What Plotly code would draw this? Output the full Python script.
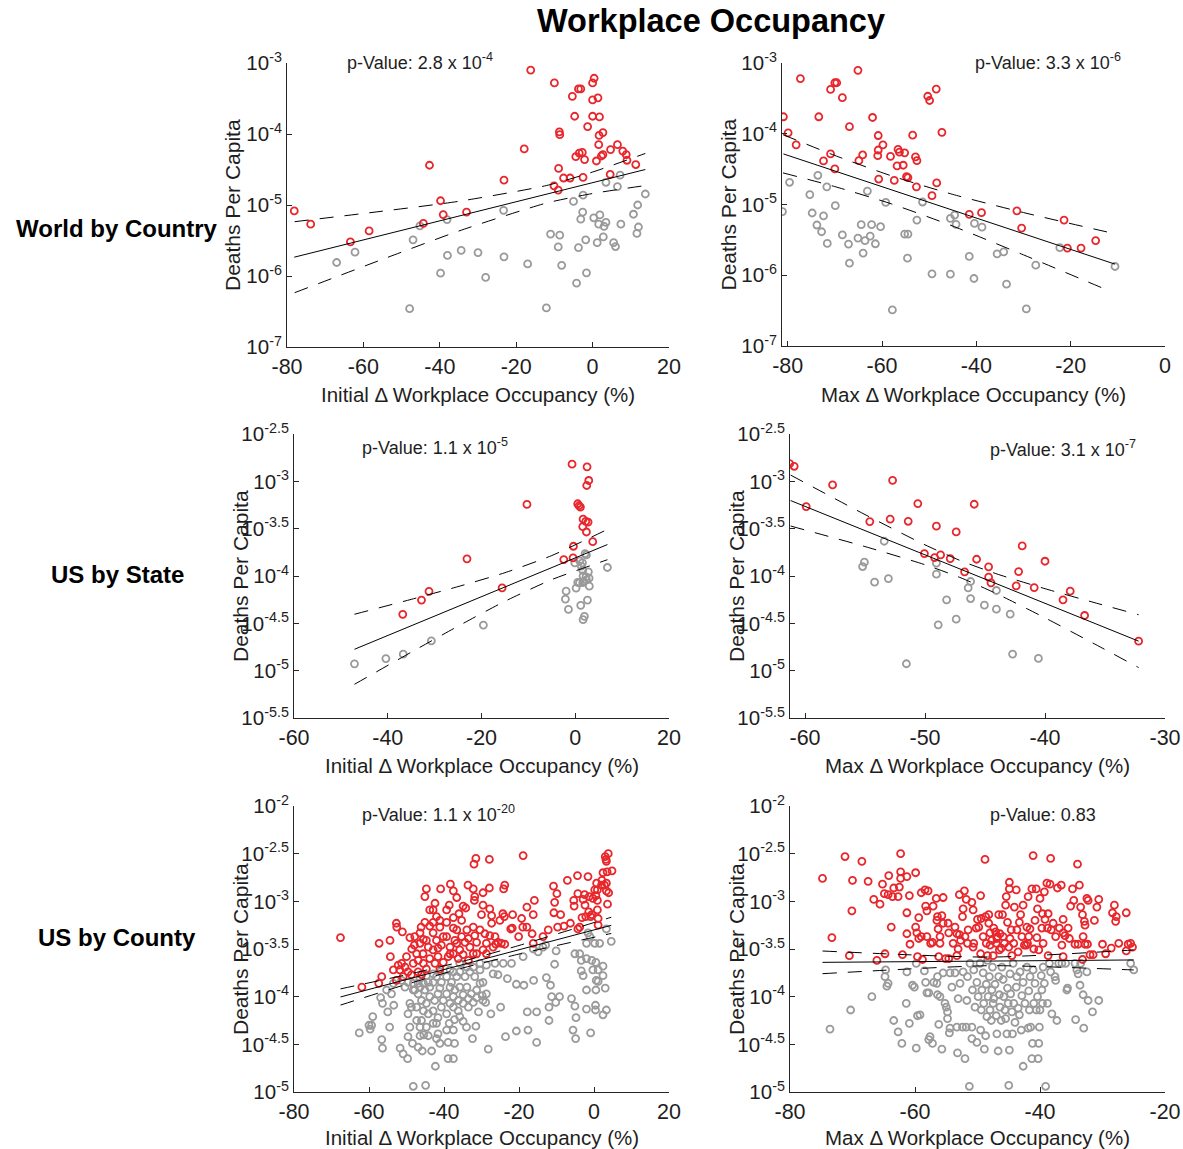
import plotly.graph_objects as go

W, H = 1183, 1149
RED = '#e8262b'
GRAY = '#9a9a9a'
INK = '#1e1e1e'
FONT = 'Liberation Sans, Arial, Helvetica, sans-serif'

# ---------------- data (x = change in occupancy %, y = log10 deaths per capita) -------------
world_init_red = [(-78.1,-5.084),(-73.8,-5.27),(-63.4,-5.52),(-58.5,-5.365),(-44.3,-5.26),(-42.7,-4.44),
    (-39.8,-4.94),(-39.1,-5.135),(-33.0,-5.10),(-23.2,-4.65),(-17.9,-4.21),(-16.2,-3.10),(-10.0,-3.28),
    (-10.1,-4.73),(-9.0,-4.79),(-8.9,-4.485),(-8.7,-3.97),(-8.6,-4.01),(-7.6,-4.62),(-5.9,-4.62),(-5.3,-3.47),
    (-4.7,-3.75),(-4.4,-4.32),(-3.7,-3.365),(-3.1,-3.365),(-3.5,-4.27),(-2.7,-4.26),(-2.5,-4.61),(-2.1,-4.36),
    (-1.3,-3.895),(0.0,-3.28),(0.4,-3.215),(0.0,-3.52),(1.4,-3.49),(0.0,-3.75),(1.8,-3.76),(1.0,-4.38),
    (1.7,-4.02),(2.7,-3.98),(1.6,-4.15),(2.3,-4.31),(2.7,-4.29),(4.7,-4.22),(4.6,-4.57),(6.5,-4.15),
    (7.9,-4.24),(8.8,-4.29),(9.0,-4.37),(11.3,-4.43)]
world_init_gray = [(-67.0,-5.81),(-62.2,-5.665),(-47.9,-6.46),(-47.0,-5.49),(-45.2,-5.295),(-39.8,-5.96),
    (-38.1,-5.205),(-38.0,-5.71),(-34.4,-5.64),(-30.0,-5.67),(-28.0,-6.02),(-23.3,-5.075),(-23.2,-5.73),
    (-17.0,-5.83),(-12.1,-6.45),(-11.0,-5.41),(-9.0,-5.59),(-8.6,-5.425),(-8.1,-5.85),(-5.0,-4.95),
    (-4.2,-6.10),(-3.7,-5.60),(-3.1,-5.20),(-2.6,-5.10),(-2.5,-4.86),(-1.8,-5.49),(-1.6,-5.955),(0.3,-5.18),
    (1.2,-5.53),(1.6,-5.27),(1.9,-5.14),(2.8,-5.45),(3.0,-5.30),(3.5,-5.245),(3.5,-4.68),(5.5,-5.53),
    (6.0,-5.585),(6.5,-4.74),(7.2,-4.58),(7.4,-5.27),(10.7,-5.13),(11.8,-5.00),(12.0,-5.31),(11.6,-5.40),
    (13.8,-4.845)]
world_init_fit_x = [-78.1, 13.8]
world_init_fit_y = [-5.735, -4.50]
world_init_band_x = [-78.0, -55.0, -35.0, -12.0, 0.0, 13.8]
world_init_upper = [-5.235, -5.087, -4.948, -4.725, -4.536, -4.274]
world_init_lower = [-6.235, -5.765, -5.366, -4.971, -4.838, -4.726]

world_max_red = [(-80.9,-3.76),(-79.9,-3.987),(-78.2,-4.157),(-77.3,-3.22),(-73.4,-3.76),(-72.4,-4.384),
    (-70.9,-3.373),(-70.9,-4.285),(-70.0,-4.497),(-70.0,-3.279),(-69.6,-3.279),(-68.4,-3.49),(-66.9,-3.90),
    (-65.1,-3.104),(-64.9,-4.38),(-64.1,-4.30),(-62.0,-3.77),(-60.8,-4.025),(-60.9,-4.31),(-60.8,-4.23),
    (-60.7,-4.64),(-59.8,-4.157),(-58.2,-4.32),(-57.4,-4.66),(-56.8,-4.455),(-56.6,-4.22),(-56.3,-4.26),
    (-55.5,-4.445),(-55.2,-4.27),(-54.8,-4.606),(-54.5,-4.62),(-53.5,-4.02),(-52.9,-4.327),(-52.6,-4.38),
    (-52.7,-4.75),(-50.3,-3.47),(-49.9,-3.53),(-49.4,-4.875),(-48.5,-3.368),(-48.4,-4.695),(-47.3,-3.98),
    (-41.5,-5.14),(-38.9,-5.116),(-31.4,-5.09),(-30.4,-5.333),(-21.4,-5.22),(-20.7,-5.616),(-17.8,-5.616),
    (-14.7,-5.51)]
world_max_gray = [(-81.1,-5.10),(-79.6,-4.686),(-75.3,-4.86),(-74.8,-5.12),(-73.8,-5.29),(-73.6,-4.587),
    (-72.8,-5.385),(-72.4,-5.16),(-71.7,-4.75),(-71.6,-5.55),(-69.9,-5.017),(-68.4,-5.43),(-67.1,-5.56),
    (-66.9,-5.83),(-65.1,-5.475),(-64.4,-5.285),(-64.0,-5.687),(-63.6,-5.51),(-63.1,-4.81),(-62.5,-5.446),
    (-62.2,-5.285),(-61.4,-5.555),(-60.3,-5.314),(-59.2,-4.97),(-57.8,-6.49),(-55.2,-5.418),(-54.5,-5.418),
    (-54.6,-5.758),(-52.6,-5.22),(-51.4,-4.965),(-49.4,-5.98),(-45.5,-5.985),(-45.5,-5.196),(-44.6,-5.15),
    (-44.3,-5.28),(-41.5,-5.734),(-40.5,-6.046),(-40.4,-5.267),(-38.8,-5.32),(-35.6,-5.697),(-34.2,-5.67),
    (-33.6,-6.126),(-29.4,-6.476),(-27.4,-5.857),(-22.3,-5.61),(-10.6,-5.876)]
world_max_fit_x = [-80.9, -10.6]
world_max_fit_y = [-4.285, -5.843]
world_max_band_x = [-81.0, -70.0, -58.0, -45.0, -30.0, -11.5]
world_max_upper = [-4.013, -4.307, -4.595, -4.857, -5.114, -5.40]
world_max_lower = [-4.553, -4.747, -4.991, -5.305, -5.712, -6.23]

state_init_red = [(-36.8,-4.405),(-32.8,-4.254),(-31.2,-4.163),(-23.1,-3.819),(-15.6,-4.125),(-10.3,-3.244),
    (-2.45,-3.826),(-0.68,-2.819),(-0.39,-3.686),(-0.46,-3.809),(0.53,-3.237),(0.82,-3.258),(1.1,-3.272),
    (1.67,-3.40),(1.6,-3.479),(2.24,-3.423),(2.74,-3.43),(2.38,-3.535),(2.52,-2.847),(2.88,-2.991),
    (2.45,-3.044),(3.73,-3.637)]
state_init_gray = [(-47.1,-4.928),(-40.4,-4.872),(-36.7,-4.826),(-30.7,-4.686),(-19.6,-4.518),(-2.1,-4.244),
    (-1.95,-4.16),(-1.45,-4.353),(-0.1,-3.861),(0.18,-4.128),(0.53,-4.068),(0.9,-4.072),(1.17,-4.31),
    (0.96,-3.84),(1.3,-3.896),(1.53,-3.861),(1.6,-3.94),(1.67,-4.0),(1.95,-4.426),(1.67,-4.461),(2.1,-3.763),
    (2.38,-3.777),(1.8,-4.058),(2.3,-4.009),(2.6,-4.254),(2.8,-3.956),(2.95,-4.023),(3.0,-4.107),(6.86,-3.91),
    (1.6,-4.07),(2.38,-4.04)]
state_init_fit_x = [-47.1, 6.86]
state_init_fit_y = [-4.774, -3.668]
state_init_band_x = [-47.1, -35.0, -25.0, -15.0, -5.0, 6.86]
state_init_upper = [-4.404, -4.247, -4.112, -3.965, -3.784, -3.508]
state_init_lower = [-5.144, -4.805, -4.530, -4.267, -4.038, -3.828]

state_max_red = [(-61.28,-2.813),(-60.9,-2.841),(-57.7,-3.038),(-52.7,-2.989),(-59.9,-3.267),(-54.6,-3.425),
    (-52.9,-3.40),(-51.4,-3.422),(-50.6,-3.235),(-49.05,-3.474),(-47.4,-3.534),(-45.9,-3.242),(-50.05,-3.763),
    (-49.2,-3.805),(-48.7,-3.777),(-47.9,-3.816),(-46.7,-3.956),(-45.7,-3.823),(-44.7,-3.903),(-44.7,-4.012),
    (-44.5,-4.072),(-42.4,-4.104),(-42.2,-3.953),(-41.9,-3.682),(-40.9,-4.122),(-40.0,-3.844),(-38.5,-4.252),
    (-37.9,-4.16),(-36.7,-4.417),(-32.2,-4.688)]
state_max_gray = [(-55.2,-3.90),(-55.05,-3.854),(-54.2,-4.065),(-53.4,-3.633),(-53.05,-4.027),(-51.55,-4.927),
    (-49.05,-3.865),(-49.05,-3.981),(-48.9,-4.516),(-48.2,-4.252),(-47.4,-4.456),(-46.4,-4.125),(-46.2,-4.058),
    (-46.2,-4.238),(-45.05,-4.308),(-44.05,-4.153),(-44.05,-4.35),(-42.9,-4.403),(-42.7,-4.825),(-40.55,-4.871)]
state_max_fit_x = [-61.2, -32.2]
state_max_fit_y = [-3.203, -4.688]
state_max_band_x = [-61.2, -55.0, -50.0, -47.0, -44.0, -40.0, -36.0, -32.2]
state_max_upper = [-2.934, -3.351, -3.671, -3.84, -3.979, -4.134, -4.277, -4.409]
state_max_lower = [-3.472, -3.689, -3.881, -4.02, -4.189, -4.442, -4.709, -4.967]

county_init_red = [(-67.6,-3.38),(-61.9,-3.90),(-57.3,-3.44),(-56.6,-3.79),(-57.4,-3.86),(-54.4,-3.41),
    (-54.3,-3.58),(-52.7,-3.23),(-52.6,-3.27),(-51.1,-3.32),(-52.7,-3.83),(-44.7,-2.87),(-45.1,-2.95),
    (-40.9,-2.87),(-38.3,-2.82),(-37.5,-2.89),(-36.6,-2.96),(-33.6,-2.83),(-32.0,-2.61),(-31.5,-2.55),
    (-27.9,-2.56),(-18.9,-2.52),(-32.2,-2.87),(-31.8,-2.95),(-31.9,-2.99),(-29.6,-2.91),(-27.9,-2.86),
    (-27.8,-3.08),(-23.8,-2.83),(-24.1,-2.87),(-15.9,-2.99),(-17.9,-3.06),(-16.2,-3.14),(-10.8,-2.84),
    (-10.5,-3.01),(-9.9,-2.92),(-10.7,-3.12),(-8.9,-3.14),(-7.1,-2.78),(-4.4,-2.73),(-1.6,-2.74),(-5.4,-2.99),
    (-5.3,-3.05),(-4.3,-2.92),(-2.4,-3.04),(-2.9,-2.98),(-2.5,-2.93),(-0.3,-2.97),(0.2,-2.88),(0.7,-2.81),
    (0.9,-2.99),(2.1,-2.78),(2.4,-2.70),(3.5,-2.69),(2.8,-2.83),(3.3,-2.89),(3.9,-2.91),(3.6,-3.03),
    (3.2,-2.56),(3.0,-2.53),(3.8,-2.50),(3.3,-2.58),(4.8,-2.68),(3.3,-2.81),(2.0,-2.83),(0.9,-2.88),
    (0.5,-2.94),(-1.3,-2.95),(-3.2,-3.17),(-2.2,-3.16),(-0.9,-3.16),(0.9,-3.09),(-1.4,-3.11),(-0.6,-3.14),
    (1.1,-3.18),(-4.3,-3.29),(-6.3,-3.23),(-8.0,-3.26),(-9.7,-3.27),(-12.2,-3.30),(-13.6,-3.37),(-16.5,-3.34),
    (-16.2,-3.44),(-20.1,-3.37),(-19.0,-3.27),(-19.3,-3.18),(-17.9,-3.27),(-21.8,-3.28),(-21.7,-3.14),
    (-23.9,-3.16),(-24.3,-3.13),(-25.1,-3.20),(-24.7,-3.44),(-26.2,-3.45),(-26.4,-3.37),(-27.3,-3.23),
    (-27.3,-3.15),(-29.6,-3.04),(-30.0,-3.14),(-34.2,-3.07),(-34.9,-3.05),(-36.0,-3.13),(-38.6,-3.04),
    (-39.3,-3.09),(-42.4,-3.02),(-42.9,-3.09),(-42.0,-3.16),(-46.1,-3.27),(-45.5,-3.40),(-47.8,-3.37),
    (-49.1,-3.38),(-47.9,-3.46),(-46.4,-3.33),(-43.8,-3.26),(-42.9,-3.33),(-41.1,-3.27),(-40.2,-3.37),
    (-37.5,-3.28),(-36.6,-3.30),(-35.3,-3.20),(-33.9,-3.30),(-33.5,-3.39),(-32.2,-3.27),(-31.8,-3.36),
    (-31.3,-3.43),(-30.4,-3.30),(-29.1,-3.34),(-28.7,-3.44),(-27.8,-3.36),(-29.6,-3.51),(-31.3,-3.55),
    (-33.1,-3.48),(-34.4,-3.43),(-35.8,-3.51),(-37.1,-3.41),(-38.4,-3.48),(-39.3,-3.37),(-40.7,-3.46),
    (-42.0,-3.41),(-42.9,-3.51),(-44.2,-3.48),(-45.6,-3.55),(-46.4,-3.44),(-47.3,-3.55),(-48.6,-3.50),
    (-50.0,-3.58),(-51.3,-3.65),(-50.4,-3.69),(-51.8,-3.72),(-52.2,-3.67),(-49.6,-3.74),(-48.2,-3.65),
    (-46.9,-3.74),(-45.5,-3.65),(-44.7,-3.71),(-43.8,-3.60),(-42.4,-3.65),(-41.6,-3.58),(-41.1,-3.71),
    (-40.2,-3.64),(-38.9,-3.58),(-37.5,-3.55),(-36.2,-3.60),(-34.9,-3.56),(-33.5,-3.62),(-32.2,-3.55),
    (-36.6,-3.44),(-38.4,-3.55),(-44.7,-3.41),(-48.7,-3.77),(-50.9,-3.79),(-46.0,-3.77),(-28.7,-3.55),
    (-26.9,-3.48),(-25.6,-3.43),(-23.8,-3.45),(-22.2,-3.29),(-53.5,-3.72),(-46.9,-3.62),(-41.6,-3.49),
    (-35.3,-3.37),(-39.3,-3.22),(-37.5,-3.17),(-42.9,-3.22),(-41.1,-3.20),(-45.1,-3.22),(-43.8,-3.09),
    (-3.8,-3.27),(1.1,-3.25)]
county_init_gray = [(-62.6,-4.38),(-60.0,-4.30),(-59.7,-4.34),(-59.0,-4.21),(-56.6,-4.45),(-56.4,-4.54),
    (-56.9,-4.01),(-56.4,-4.07),(-55.0,-4.16),(-54.5,-4.32),(-54.0,-3.97),(-53.4,-4.09),(-51.7,-4.54),
    (-50.9,-4.60),(-49.7,-4.65),(-48.2,-4.94),(-44.9,-4.93),(-42.3,-4.73),(-48.4,-4.49),(-46.9,-4.53),
    (-45.8,-4.57),(-43.3,-4.57),(-38.9,-4.65),(-37.5,-4.65),(-28.2,-4.55),(-32.4,-4.44),(-23.6,-4.42),
    (-20.7,-4.36),(-17.6,-4.35),(-15.3,-4.48),(-12.0,-4.25),(-17.8,-4.16),(-15.3,-4.16),(-12.0,-4.11),
    (-11.3,-4.00),(-9.2,-4.00),(-10.2,-4.06),(-20.7,-3.87),(-18.7,-3.88),(-16.1,-3.83),(-12.7,-3.80),
    (-11.6,-3.88),(-10.5,-3.66),(-10.1,-3.52),(-12.9,-3.46),(-14.9,-3.53),(-18.9,-3.58),(-22.0,-3.65),
    (-24.2,-3.65),(-23.1,-3.81),(-24.9,-4.11),(-27.5,-4.18),(-28.9,-4.06),(-29.8,-3.99),(-30.8,-4.16),
    (-31.5,-4.31),(-34.0,-4.32),(-34.9,-4.26),(-37.2,-4.24),(-38.6,-4.28),(-38.9,-4.48),(-37.2,-4.49),
    (-39.3,-4.35),(-41.6,-4.39),(-42.9,-4.28),(-44.7,-4.32),(-46.4,-4.32),(-49.1,-4.32),(-49.6,-4.18),
    (-48.7,-4.11),(-47.3,-4.25),(-45.4,-4.40),(-46.0,-4.25),(-44.2,-4.18),(-42.9,-4.15),(-41.6,-4.22),
    (-40.7,-4.11),(-39.3,-4.18),(-37.5,-4.11),(-36.2,-4.15),(-34.9,-4.07),(-33.5,-4.11),(-32.2,-4.06),
    (-31.3,-4.01),(-29.6,-4.04),(-28.7,-3.97),(-29.6,-3.85),(-30.4,-3.86),(-31.3,-3.93),(-32.7,-3.97),
    (-33.5,-4.02),(-34.9,-3.98),(-36.2,-4.04),(-37.5,-4.00),(-38.4,-4.07),(-39.3,-3.97),(-40.2,-4.04),
    (-41.6,-3.97),(-42.5,-4.04),(-43.8,-4.00),(-44.7,-4.07),(-46.0,-4.04),(-46.9,-3.97),(-47.8,-3.93),
    (-46.4,-3.90),(-45.1,-3.93),(-43.8,-3.90),(-42.9,-3.85),(-44.2,-3.85),(-45.5,-3.86),(-46.9,-3.86),
    (-48.2,-3.86),(-49.6,-3.85),(-51.3,-3.83),(-50.4,-3.90),(-42.0,-3.79),(-40.7,-3.85),(-39.3,-3.79),
    (-38.0,-3.85),(-36.6,-3.79),(-35.8,-3.74),(-34.4,-3.79),(-33.1,-3.74),(-31.8,-3.79),(-33.9,-3.90),
    (-35.8,-3.90),(-37.1,-3.93),(-38.4,-3.90),(-41.1,-3.91),(-37.5,-3.74),(-30.4,-3.72),(-28.7,-3.67),
    (-26.4,-3.65),(-26.9,-3.76),(-25.6,-3.77),(-30.4,-3.65),(-32.2,-3.69),(-33.9,-3.69),(-35.8,-3.65),
    (-38.4,-3.72),(-41.1,-3.74),(-42.9,-3.76),(-44.7,-3.78),(-46.4,-3.81),(-48.2,-3.93),(-49.1,-4.07),
    (-47.3,-4.11),(-45.5,-4.15),(-49.6,-4.42),(-46.4,-4.41),(-44.2,-4.41),(-42.0,-4.28),(-37.5,-4.35),
    (-35.8,-4.21),(-42.0,-4.44),(-41.1,-4.49),(-6.0,-4.02),(-5.1,-4.10),(-4.8,-4.22),(-5.6,-4.35),
    (-4.9,-4.44),(-0.9,-4.38),(-2.0,-4.13),(0.4,-4.09),(0.4,-4.14),(2.4,-4.19),(3.3,-4.14),(3.0,-3.91),
    (0.5,-3.93),(-2.0,-3.93),(0.6,-3.83),(1.1,-3.84),(2.4,-3.78),(1.1,-3.72),(-0.3,-3.72),(2.4,-3.68),
    (0.5,-3.64),(-0.6,-3.62),(-2.0,-3.60),(-3.4,-3.62),(-3.8,-3.55),(-5.1,-3.55),(-3.4,-3.73),(-2.9,-3.78),
    (-2.0,-3.44),(-1.1,-3.37),(0.2,-3.44),(1.5,-3.44),(3.3,-3.29),(4.6,-3.42),(-1.6,-3.33),(-13.6,-3.48),
    (-16.2,-3.50),(-53.5,-3.86),(-55.3,-3.93),(-59.3,-4.30)]
county_init_fit_x = [-67.6, 4.6]
county_init_fit_y = [-4.003, -3.252]
county_init_band_x = [-67.6, -50.0, -35.0, -20.0, 4.6]
county_init_upper = [-3.918, -3.77, -3.629, -3.463, -3.167]
county_init_lower = [-4.088, -3.87, -3.699, -3.553, -3.337]

county_max_red = [(-74.8,-2.76),(-73.3,-3.38),(-71.2,-2.53),(-70.5,-3.57),(-70.1,-3.10),(-70.0,-2.78),
    (-68.5,-2.58),(-67.5,-2.79),(-66.6,-2.98),(-66.1,-3.62),(-65.6,-3.03),(-65.2,-2.82),(-64.9,-2.92),
    (-64.8,-3.55),(-64.2,-2.73),(-64.3,-2.93),(-63.6,-2.95),(-63.8,-3.27),(-63.4,-2.86),(-62.7,-2.95),
    (-62.3,-2.50),(-62.3,-2.69),(-62.3,-2.76),(-62.5,-2.85),(-62.0,-3.56),(-61.3,-2.74),(-61.3,-3.12),
    (-61.3,-3.34),(-60.9,-2.94),(-60.8,-3.45),(-59.9,-2.70),(-59.9,-3.27),(-59.7,-3.33),(-59.6,-3.58),
    (-59.4,-3.17),(-59.4,-3.39),(-59.0,-3.37),(-59.0,-2.91),(-58.8,-3.61),(-58.4,-2.88),(-58.3,-3.05),
    (-58.1,-3.10),(-57.9,-2.89),(-57.5,-3.44),(-57.2,-3.43),(-57.1,-3.05),(-56.6,-2.97),(-56.5,-3.20),
    (-56.4,-3.16),(-56.3,-3.29),(-56.0,-3.37),(-56.2,-3.58),(-55.7,-3.15),(-55.5,-2.96),(-55.5,-3.23),
    (-55.1,-3.60),(-54.7,-3.23),(-54.6,-3.60),(-54.6,-3.33),(-53.9,-3.44),(-53.6,-3.27),(-53.3,-3.34),
    (-53.3,-3.57),(-53.1,-3.50),(-52.9,-2.93),(-52.9,-3.35),(-52.7,-3.41),(-52.4,-3.16),(-52.3,-3.08),
    (-52.1,-2.89),(-52.0,-3.37),(-51.8,-2.98),(-51.6,-3.44),(-51.5,-3.30),(-50.9,-3.01),(-50.7,-3.09),
    (-50.7,-3.48),(-50.6,-3.44),(-50.2,-3.28),(-50.0,-3.19),(-49.8,-3.27),(-49.5,-2.94),(-49.5,-3.55),
    (-49.4,-3.18),(-49.1,-3.37),(-48.8,-2.56),(-48.7,-3.16),(-48.6,-3.44),(-48.4,-3.57),(-48.2,-3.23),
    (-48.2,-3.14),(-48.0,-3.33),(-48.0,-3.46),(-47.7,-3.41),(-47.5,-3.57),(-47.4,-3.28),(-47.1,-3.32),
    (-47.0,-3.44),(-46.8,-3.37),(-46.6,-3.14),(-46.5,-3.51),(-46.4,-3.34),(-46.2,-3.49),(-46.0,-3.14),
    (-45.9,-3.37),(-45.7,-3.44),(-45.5,-3.04),(-45.4,-2.95),(-45.2,-3.22),(-45.0,-3.48),(-44.9,-2.87),
    (-44.9,-2.80),(-44.8,-3.39),(-44.6,-3.30),(-44.5,-3.57),(-44.2,-3.44),(-44.1,-3.06),(-43.8,-2.88),
    (-43.7,-3.30),(-43.5,-3.53),(-43.3,-3.22),(-43.1,-3.14),(-42.9,-3.37),(-42.7,-3.04),(-42.5,-3.46),
    (-42.2,-3.46),(-42.1,-3.27),(-41.9,-2.95),(-41.8,-3.37),(-41.6,-3.29),(-41.3,-2.87),(-41.1,-2.52),
    (-41.0,-3.50),(-40.8,-3.20),(-40.6,-2.87),(-40.5,-3.38),(-40.4,-3.08),(-40.2,-3.51),(-40.0,-2.97),
    (-39.7,-3.28),(-39.6,-3.13),(-39.5,-3.44),(-39.3,-2.90),(-39.2,-3.19),(-38.9,-2.81),(-38.8,-3.28),
    (-38.7,-3.57),(-38.7,-3.13),(-38.4,-2.82),(-38.3,-2.55),(-38.2,-3.30),(-37.9,-3.23),(-37.5,-3.37),
    (-37.2,-2.86),(-36.9,-3.28),(-36.6,-2.83),(-36.5,-3.46),(-36.3,-3.19),(-36.3,-3.58),(-36.0,-3.36),
    (-35.5,-3.28),(-35.3,-3.39),(-35.1,-3.05),(-34.8,-2.87),(-34.6,-2.99),(-34.4,-3.45),(-34.0,-2.61),
    (-33.9,-3.45),(-33.7,-2.83),(-33.5,-3.06),(-33.2,-3.14),(-33.2,-3.61),(-33.1,-3.37),(-32.9,-3.21),
    (-32.8,-3.45),(-32.8,-3.25),(-32.5,-2.97),(-32.4,-3.45),(-32.3,-2.99),(-32.0,-3.56),(-31.5,-3.56),
    (-31.3,-3.20),(-30.9,-3.06),(-30.6,-2.98),(-30.0,-3.45),(-29.5,-3.55),(-28.6,-3.49),(-28.4,-3.12),
    (-28.1,-3.04),(-27.9,-3.21),(-27.8,-3.16),(-27.4,-3.44),(-26.2,-3.12),(-26.2,-3.52),(-25.9,-3.45),
    (-25.5,-3.44),(-25.2,-3.48),(-36.3,-3.33),(-42.0,-3.44),(-46.9,-3.39),(-58.1,-3.37),(-56.0,-3.44)]
county_max_gray = [(-73.6,-4.34),(-70.3,-4.14),(-66.9,-4.00),(-64.7,-3.72),(-64.8,-3.79),(-64.5,-3.89),
    (-64.3,-3.86),(-63.4,-4.25),(-62.7,-4.37),(-62.1,-4.49),(-61.4,-4.07),(-61.3,-3.74),(-60.9,-4.28),
    (-60.4,-3.88),(-60.1,-3.90),(-59.8,-4.54),(-59.8,-3.65),(-59.6,-4.20),(-59.2,-4.19),(-58.5,-3.73),
    (-58.3,-3.85),(-58.1,-3.96),(-57.8,-3.96),(-57.8,-4.45),(-57.6,-4.42),(-57.2,-4.49),(-57.0,-3.85),
    (-56.5,-3.86),(-56.4,-3.98),(-56.4,-3.79),(-56.2,-4.29),(-56.0,-4.00),(-55.7,-4.55),(-55.5,-3.75),
    (-55.2,-4.07),(-55.0,-4.11),(-54.8,-4.16),(-54.8,-4.23),(-54.5,-4.38),(-54.4,-4.33),(-54.4,-3.75),
    (-54.1,-3.90),(-53.6,-3.75),(-53.3,-4.32),(-53.2,-4.59),(-53.1,-4.02),(-52.8,-3.86),(-52.4,-4.32),
    (-52.3,-3.74),(-52.0,-4.65),(-51.8,-4.32),(-51.7,-4.04),(-51.6,-3.79),(-51.3,-4.94),(-51.2,-3.65),
    (-50.9,-4.44),(-50.9,-4.32),(-50.8,-3.93),(-50.6,-3.72),(-50.4,-4.11),(-50.1,-4.48),(-50.1,-3.85),
    (-49.9,-4.00),(-49.6,-3.65),(-49.5,-4.35),(-49.4,-4.14),(-49.3,-3.93),(-49.1,-3.75),(-49.0,-4.07),
    (-48.9,-4.55),(-48.7,-4.41),(-48.6,-3.87),(-48.5,-4.21),(-48.4,-3.62),(-48.3,-4.00),(-48.1,-3.79),
    (-48.0,-4.14),(-47.8,-4.25),(-47.7,-3.93),(-47.6,-3.69),(-47.5,-4.07),(-47.4,-4.02),(-47.2,-3.87),
    (-47.0,-4.20),(-46.9,-4.39),(-46.7,-4.57),(-46.6,-3.79),(-46.5,-3.98),(-46.4,-4.11),(-46.2,-4.25),
    (-46.1,-3.69),(-45.9,-3.82),(-45.8,-4.00),(-45.6,-4.14),(-45.5,-4.23),(-45.3,-4.39),(-45.2,-3.91),
    (-45.1,-4.07),(-45.0,-4.93),(-44.9,-4.56),(-44.8,-3.76),(-44.7,-3.97),(-44.5,-4.16),(-44.4,-4.39),
    (-44.3,-3.65),(-44.2,-4.07),(-44.0,-4.27),(-43.8,-3.90),(-43.7,-3.79),(-43.5,-4.12),(-43.3,-4.19),
    (-43.2,-3.74),(-43.0,-4.35),(-42.9,-3.99),(-42.7,-4.73),(-42.7,-3.85),(-42.4,-4.07),(-42.1,-3.69),
    (-41.9,-4.33),(-41.8,-3.94),(-41.7,-4.14),(-41.6,-3.79),(-41.5,-4.32),(-41.3,-4.65),(-41.2,-4.49),
    (-41.1,-3.72),(-41.0,-4.07),(-40.8,-3.86),(-40.6,-4.14),(-40.4,-4.00),(-40.3,-4.65),(-40.2,-4.49),
    (-40.1,-4.32),(-40.0,-4.14),(-39.8,-3.78),(-39.7,-3.93),(-39.6,-4.07),(-39.5,-3.69),(-39.3,-3.86),
    (-39.1,-4.94),(-38.8,-4.07),(-38.5,-3.65),(-38.3,-3.74),(-38.1,-4.18),(-37.6,-3.79),(-37.5,-3.83),
    (-37.3,-4.25),(-36.5,-3.65),(-35.7,-3.93),(-35.6,-3.91),(-34.3,-4.24),(-34.1,-3.72),(-33.9,-3.76),
    (-33.6,-3.88),(-33.5,-3.65),(-33.1,-3.98),(-33.0,-4.33),(-32.5,-3.74),(-32.3,-4.04),(-31.6,-4.16),
    (-30.6,-4.04),(-25.5,-3.65),(-25.0,-3.72),(-34.4,-3.65),(-37.0,-3.65),(-35.9,-3.65)]
county_max_fit_x = [-74.8, -25.0]
county_max_fit_y = [-3.640, -3.615]
county_max_band_x = [-74.8, -48.0, -25.0]
county_max_upper = [-3.521, -3.585, -3.51]
county_max_lower = [-3.759, -3.675, -3.72]

# ---------------- panel configuration ----------------
X_INIT = 'Initial \u0394 Workplace Occupancy (%)'
X_MAX = 'Max \u0394 Workplace Occupancy (%)'

panels = [
    dict(red=world_init_red, gray=world_init_gray, fx=world_init_fit_x, fy=world_init_fit_y,
         bx=world_init_band_x, up=world_init_upper, lo=world_init_lower,
         xr=[-80, 20], xt=[-80, -60, -40, -20, 0, 20], yr=[-7, -3], yt=[-7, -6, -5, -4, -3],
         px=(287, 669), py=(63, 347), ty=47, xtitle=X_INIT, p='p-Value: 2.8 x 10<sup>-4</sup>', pp=(345, 62)),
    dict(red=world_max_red, gray=world_max_gray, fx=world_max_fit_x, fy=world_max_fit_y,
         bx=world_max_band_x, up=world_max_upper, lo=world_max_lower,
         xr=[-81.2, 0], xt=[-80, -60, -40, -20, 0], yr=[-7, -3], yt=[-7, -6, -5, -4, -3],
         px=(782, 1165), py=(63, 346), ty=48, xtitle=X_MAX, p='p-Value: 3.3 x 10<sup>-6</sup>', pp=(973, 62)),
    dict(red=state_init_red, gray=state_init_gray, fx=state_init_fit_x, fy=state_init_fit_y,
         bx=state_init_band_x, up=state_init_upper, lo=state_init_lower,
         xr=[-60, 20], xt=[-60, -40, -20, 0, 20], yr=[-5.5, -2.5], yt=[-5.5, -5, -4.5, -4, -3.5, -3, -2.5],
         px=(294, 669), py=(434, 718), ty=47, xtitle=X_INIT, p='p-Value: 1.1 x 10<sup>-5</sup>', pp=(360, 446)),
    dict(red=state_max_red, gray=state_max_gray, fx=state_max_fit_x, fy=state_max_fit_y,
         bx=state_max_band_x, up=state_max_upper, lo=state_max_lower,
         xr=[-61.25, -30], xt=[-60, -50, -40, -30], yr=[-5.5, -2.5], yt=[-5.5, -5, -4.5, -4, -3.5, -3, -2.5],
         px=(790, 1165), py=(434, 718), ty=47, xtitle=X_MAX, p='p-Value: 3.1 x 10<sup>-7</sup>', pp=(988, 448)),
    dict(red=county_init_red, gray=county_init_gray, fx=county_init_fit_x, fy=county_init_fit_y,
         bx=county_init_band_x, up=county_init_upper, lo=county_init_lower,
         xr=[-80, 20], xt=[-80, -60, -40, -20, 0, 20], yr=[-5, -2], yt=[-5, -4.5, -4, -3.5, -3, -2.5, -2],
         px=(294, 669), py=(806, 1092), ty=45, xtitle=X_INIT, p='p-Value: 1.1 x 10<sup>-20</sup>', pp=(360, 813)),
    dict(red=county_max_red, gray=county_max_gray, fx=county_max_fit_x, fy=county_max_fit_y,
         bx=county_max_band_x, up=county_max_upper, lo=county_max_lower,
         xr=[-80, -20], xt=[-80, -60, -40, -20], yr=[-5, -2], yt=[-5, -4.5, -4, -3.5, -3, -2.5, -2],
         px=(790, 1165), py=(806, 1092), ty=45, xtitle=X_MAX, p='p-Value: 0.83', pp=(988, 815)),
]

row_labels = ['World by Country', 'US by State', 'US by County']
row_label_y = [228, 574, 937]


def fx_(px):
    return px / W


def fy_(py):
    return 1 - py / H


def fmt_exp(e):
    return '10<sup>%s</sup>' % ('%g' % e)


fig = go.Figure()
layout = dict(width=W, height=H, margin=dict(l=0, r=0, t=0, b=0, pad=0, autoexpand=False), showlegend=False,
              paper_bgcolor='white', plot_bgcolor='white', template='none', hovermode=False,
              font=dict(family=FONT, color=INK, size=19))
annotations = []

for i, p in enumerate(panels, start=1):
    xa = 'x' if i == 1 else 'x%d' % i
    ya = 'y' if i == 1 else 'y%d' % i
    gx, gy = zip(*p['gray'])
    rx, ry = zip(*p['red'])
    fig.add_trace(go.Scatter(x=list(gx), y=[10 ** v for v in gy], mode='markers', xaxis=xa, yaxis=ya,
                             marker=dict(symbol='circle-open', size=7, color=GRAY, line=dict(width=1.8, color=GRAY))))
    fig.add_trace(go.Scatter(x=list(rx), y=[10 ** v for v in ry], mode='markers', xaxis=xa, yaxis=ya,
                             marker=dict(symbol='circle-open', size=7, color=RED, line=dict(width=1.8, color=RED))))
    fig.add_trace(go.Scatter(x=p['fx'], y=[10 ** v for v in p['fy']], mode='lines', xaxis=xa, yaxis=ya,
                             line=dict(color='black', width=1)))
    for band in (p['up'], p['lo']):
        fig.add_trace(go.Scatter(x=p['bx'], y=[10 ** v for v in band], mode='lines', xaxis=xa, yaxis=ya,
                                 line=dict(color='black', width=1, dash='14px,11px', shape='spline', smoothing=0.6)))

    axis_common = dict(showline=True, linecolor='#262626', linewidth=1, ticks='inside', ticklen=5,
                       tickcolor='#262626', tickwidth=1, showgrid=False, zeroline=False, automargin=False,
                       mirror=False)
    layout['xaxis' if i == 1 else 'xaxis%d' % i] = dict(
        axis_common, domain=[fx_(p['px'][0]), fx_(p['px'][1])], range=p['xr'],
        tickvals=p['xt'], ticktext=[str(t) for t in p['xt']], anchor=ya,
        tickfont=dict(family=FONT, size=21.5, color=INK))
    layout['yaxis' if i == 1 else 'yaxis%d' % i] = dict(
        axis_common, type='log', domain=[fy_(p['py'][1]), fy_(p['py'][0])], range=p['yr'],
        tickvals=[10 ** e for e in p['yt']], ticktext=[fmt_exp(e) for e in p['yt']], anchor=xa,
        tickfont=dict(family=FONT, size=20.5, color=INK))

    cx = (p['px'][0] + p['px'][1]) / 2
    annotations.append(dict(text=p['xtitle'], x=fx_(cx), y=fy_(p['py'][1] + p['ty']), xref='paper', yref='paper',
                            xanchor='center', yanchor='middle', showarrow=False,
                            font=dict(family=FONT, size=20.5, color=INK)))
    cy = (p['py'][0] + p['py'][1]) / 2
    annotations.append(dict(text='Deaths Per Capita', x=fx_(p['px'][0] - 54), y=fy_(cy), xref='paper', yref='paper',
                            xanchor='center', yanchor='middle', textangle=-90, showarrow=False,
                            font=dict(family=FONT, size=21, color=INK)))
    annotations.append(dict(text=p['p'], x=fx_(p['pp'][0]), y=fy_(p['pp'][1]), xref='paper', yref='paper',
                            xanchor='left', yanchor='middle', showarrow=False,
                            font=dict(family=FONT, size=18, color=INK)))

for lab, yy in zip(row_labels, row_label_y):
    annotations.append(dict(text='<b>%s</b>' % lab, x=fx_(117), y=fy_(yy), xref='paper', yref='paper',
                            xanchor='center', yanchor='middle', showarrow=False,
                            font=dict(family=FONT, size=24, color='black')))

annotations.append(dict(text='<b>Workplace Occupancy</b>', x=fx_(711), y=fy_(21), xref='paper', yref='paper',
                        xanchor='center', yanchor='middle', showarrow=False,
                        font=dict(family=FONT, size=32.5, color='black')))

layout['annotations'] = annotations
fig.update_layout(**layout)
fig.write_html('out.html', config={'displayModeBar': False, 'staticPlot': True},
               post_script="document.body.style.margin='0';document.body.style.overflow='hidden';")
